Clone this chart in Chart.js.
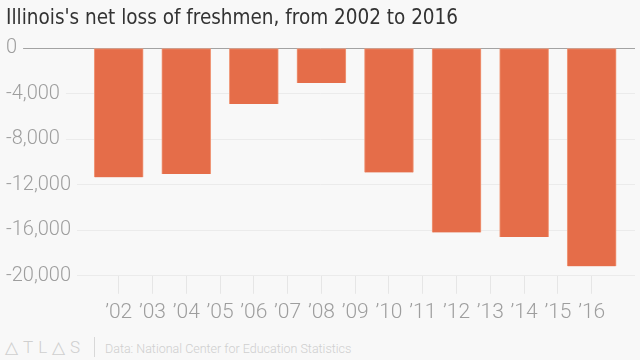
<!DOCTYPE html>
<html>
<head>
<meta charset="utf-8">
<script src="https://cdn.jsdelivr.net/npm/chart.js@4.4.1/dist/chart.umd.min.js"></script>
<style>
  html, body { margin: 0; padding: 0; background: #f8f8f8; }
  #wrap { position: relative; width: 640px; height: 331px; }
  #footer { height: 29px; width: 640px; position: relative; font-family: Roboto, sans-serif; color: #cfcfcf; }
  #footer .logo { position: absolute; left: 5px; top: 8px; font-size: 17px; font-weight: 300; letter-spacing: 5px; line-height: 17px; }
  #footer .sep { position: absolute; left: 94px; top: 6px; width: 1px; height: 20px; background: #d8d8d8; }
  #footer .src { position: absolute; left: 105px; top: 11px; font-size: 12.5px; font-weight: 300; line-height: 14px; }
</style>
</head>
<body>
<div id="wrap"><canvas id="lossChart"></canvas></div>
<div id="footer"><span class="logo">△TL△S</span><span class="sep"></span><span class="src">Data: National Center for Education Statistics</span></div>
<script>
// years along the axis, and the ones that have a bar
const years = [2002, 2003, 2004, 2005, 2006, 2007, 2008, 2009, 2010, 2011, 2012, 2013, 2014, 2015, 2016];
const yearLabels = ["’02", "’03", "’04", "’05", "’06", "’07", "’08", "’09", "’10", "’11", "’12", "’13", "’14", "’15", "’16"];
const barYears = [2002, 2004, 2006, 2008, 2010, 2012, 2014, 2016];
const netLoss = [-11350, -11050, -4900, -3060, -10920, -16200, -16600, -19170];
const yTicks = [0, -4000, -8000, -12000, -16000, -20000];

const bg = "#f8f8f8";
const ctx = document.getElementById("lossChart").getContext("2d");

new Chart(ctx, {
  type: "bar",
  data: {
    datasets: [
      {
        data: barYears.map((y, i) => ({ x: y, y: netLoss[i] })),
        backgroundColor: "#e56d49",
        borderColor: "#f09b7d",
        borderWidth: 1,
        borderSkipped: "top",
        barThickness: 49,
      },
    ],
  },
  options: {
    responsive: true,
    maintainAspectRatio: false,
    animation: false,
    layout: { padding: { left: 6, right: 5, top: 0, bottom: 0 } },
    plugins: {
      legend: { display: false },
      tooltip: { enabled: false },
      title: {
        display: true,
        text: "Illinois's net loss of freshmen, from 2002 to 2016",
        align: "start",
        color: "#333",
        font: { family: "'Liberation Sans Narrow', 'DejaVu Sans Condensed', sans-serif", size: 20.5, weight: "normal" },
        padding: { top: 6, bottom: 17.5 },
      },
    },
    scales: {
      x: {
        type: "linear",
        offset: false,
        min: 1998.664,
        max: 2017.282,
        afterBuildTicks: (scale) => {
          scale.ticks = years.map((v) => ({ value: v }));
        },
        border: { display: false },
        grid: {
          offset: false,
          drawOnChartArea: false,
          drawTicks: true,
          tickLength: 18,
          tickColor: "#e6e6e6",
        },
        ticks: {
          autoSkip: false,
          maxRotation: 0,
          padding: 6,
          color: "#9e9e9e",
          font: { family: "Roboto", size: 21, weight: "300" },
          callback: (v) => yearLabels[years.indexOf(v)],
        },
      },
      y: {
        min: -20000,
        max: 0,
        afterBuildTicks: (scale) => {
          scale.ticks = yTicks.map((v) => ({ value: v }));
        },
        border: { display: false },
        grid: {
          drawTicks: false,
          color: (c) => (c.tick && c.tick.value === 0 ? "#a3a3a3" : "#ebebeb"),
          lineWidth: 1,
        },
        ticks: {
          mirror: true,
          padding: 0,
          color: "#9e9e9e",
          font: { family: "Roboto", size: 20, weight: "300" },
          showLabelBackdrop: true,
          backdropColor: bg,
          backdropPadding: { left: 6, right: 6, top: 2, bottom: 2 },
          callback: (v) => v.toLocaleString("en-US"),
        },
      },
    },
  },
});
</script>
</body>
</html>
